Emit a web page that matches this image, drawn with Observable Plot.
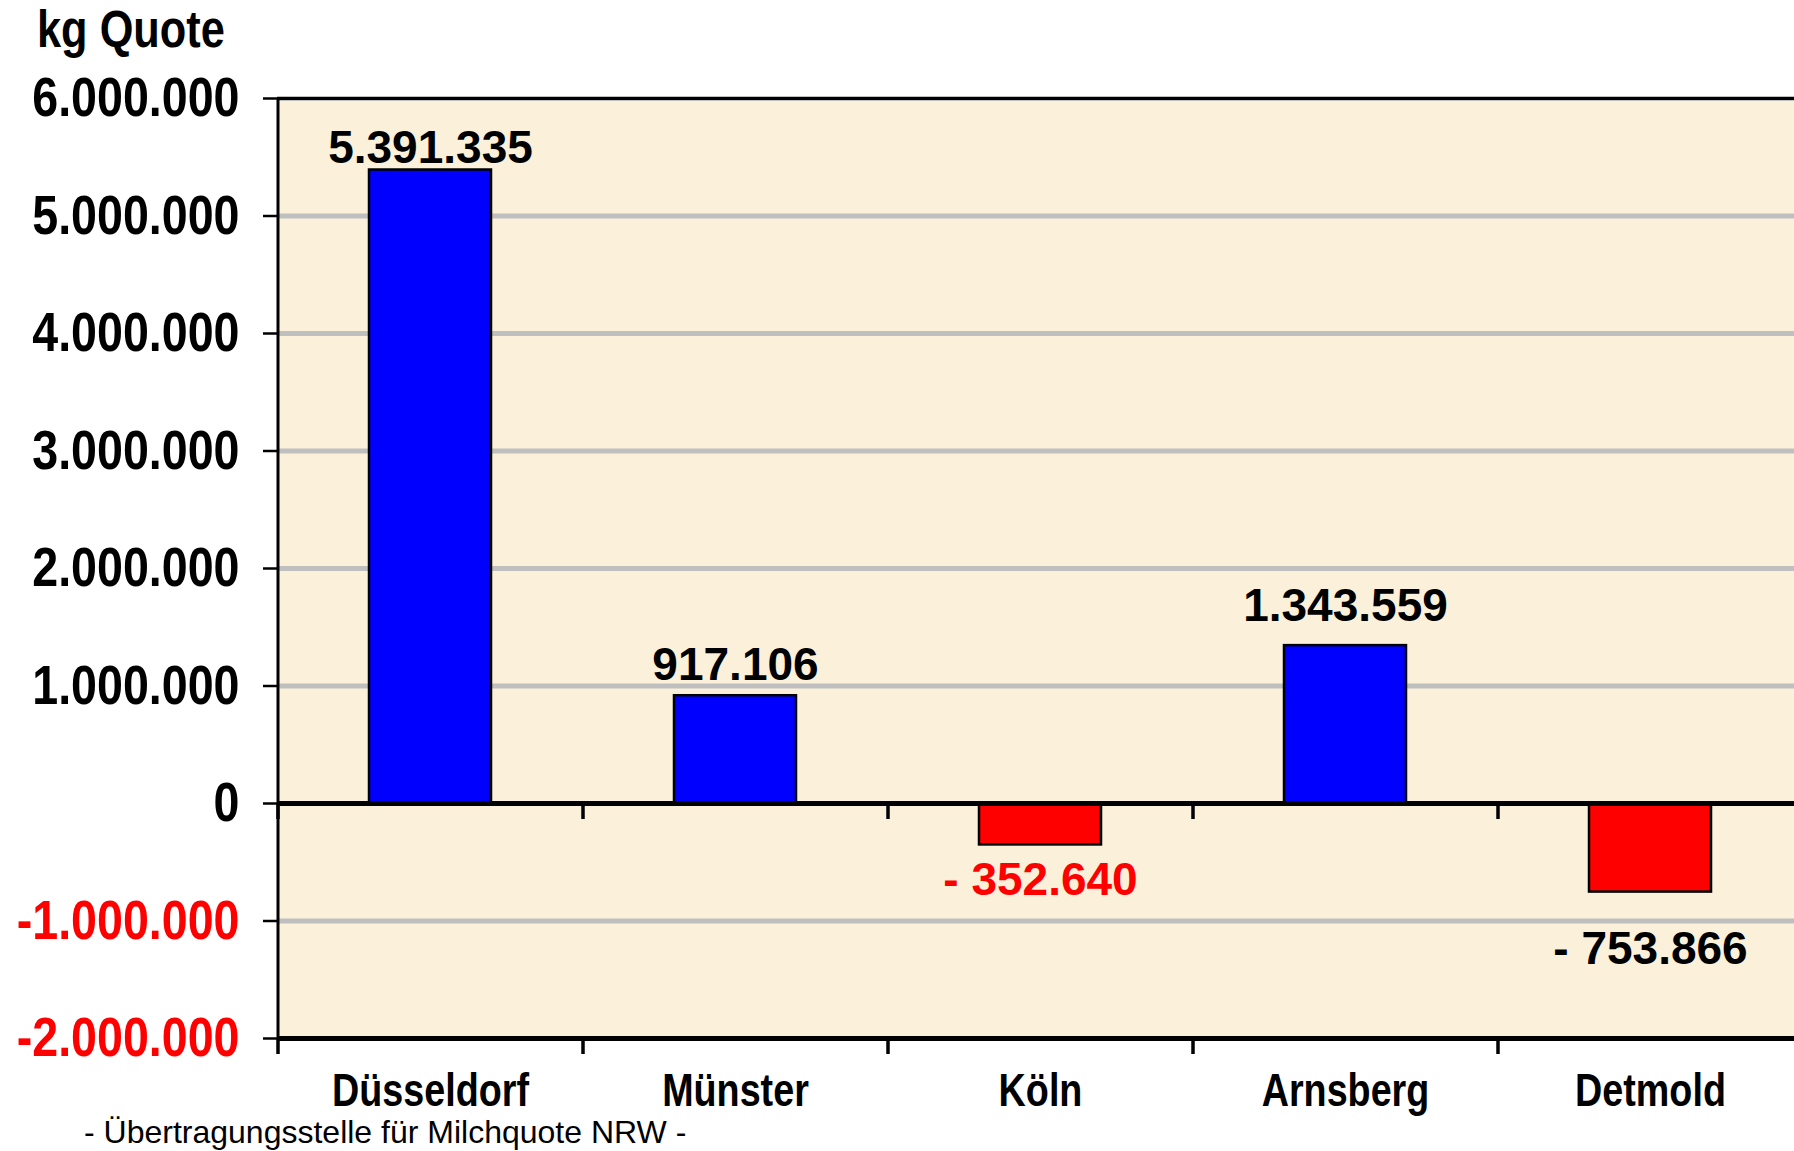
<!DOCTYPE html>
<html>
<head>
<meta charset="utf-8">
<script src="https://cdn.jsdelivr.net/npm/d3@7"></script>
<script src="https://cdn.jsdelivr.net/npm/@observablehq/plot@0.6"></script>
<style>
  html, body { margin: 0; padding: 0; background: #ffffff; }
  body { width: 1794px; height: 1151px; overflow: hidden; position: relative;
         font-family: "Liberation Sans", Arial, sans-serif; }
  #title { position: absolute; left: 37px; top: 4px; font-size: 51px; font-weight: bold; line-height: 1; color: #000;
           transform: scaleX(0.85); transform-origin: 0 0; white-space: nowrap; }
  #chart { position: absolute; left: 0; top: 0; }
  #caption { position: absolute; left: 84px; top: 1116px; font-size: 32px; line-height: 1; color: #000; white-space: nowrap; }
</style>
</head>
<body>
<div id="chart"></div>
<div id="title">kg Quote</div>
<div id="caption">- Übertragungsstelle für Milchquote NRW -</div>
<script>
// ---- data ----
const categories = ["Düsseldorf", "Münster", "Köln", "Arnsberg", "Detmold"];
const values = [5391335, 917106, -352640, 1343559, -753866];
const yTicks = [-2000000, -1000000, 0, 1000000, 2000000, 3000000, 4000000, 5000000, 6000000];

const rows = categories.map((c, i) => ({category: c, value: values[i]}));

// label styling (offset from the bar end, in px, and colour), as in the original
const labelGap = {"Düsseldorf": 7, "Münster": 16, "Köln": 19, "Arnsberg": 25, "Detmold": 41};
const redLabel = new Set(["Köln"]);

const de = d3.formatLocale({decimal: ",", thousands: ".", grouping: [3], currency: ["", " €"], minus: "-"});
const fmt = de.format(",d");
const labelText = v => v < 0 ? "- " + fmt(-v) : fmt(v);
const font = '"Liberation Sans", Arial, sans-serif';

const posRows = rows.filter(d => d.value >= 0);
const negRows = rows.filter(d => d.value < 0);

const chart = Plot.plot({
  width: 1794,
  height: 1118,
  marginTop: 98,
  marginBottom: 80,
  marginLeft: 277,
  marginRight: -8,
  style: {fontFamily: font, background: "transparent"},
  x: {domain: categories, paddingInner: 0.6, paddingOuter: 0.3, label: null},
  y: {domain: [-2000000, 6000000], label: null},
  marks: [
    Plot.frame({fill: "#fbf0da", stroke: null}),
    Plot.gridY(yTicks.filter(t => t !== 0 && t !== yTicks[0]), {stroke: "#bfbfbf", strokeOpacity: 1, strokeWidth: 5}),
    Plot.axisY(yTicks, {
      tickFormat: fmt, tickSize: 14, tickPadding: 24,
      fontSize: 56, fontWeight: "bold",
      fill: d => d < 0 ? "#ff0000" : "#000000",
      stroke: "#000", strokeWidth: 2.5
    }),
    Plot.axisX({tickSize: 0, tickPadding: 35, fontSize: 46, fontWeight: "bold", fill: "#000"}),
    Plot.barY(rows, {x: "category", y: "value", fill: d => d.value < 0 ? "#ff0000" : "#0000ff", stroke: "#000", strokeWidth: 2.5}),
    Plot.ruleY([0], {stroke: "#000", strokeWidth: 5}),
    Plot.ruleY([yTicks[0]], {stroke: "#000", strokeWidth: 5}),
    Plot.ruleY([yTicks[yTicks.length - 1]], {stroke: "#000", strokeWidth: 3}),
    Plot.ruleX([categories[0]], {x: d => d, dx: -152.5, stroke: "#000", strokeWidth: 3}),
    Plot.ruleX(categories, {x: d => d, dx: -152.5, y1: 0, y2: 0, insetBottom: -16, stroke: "#000", strokeWidth: 3.5}),
    Plot.ruleX(categories, {x: d => d, dx: -152.5, y1: yTicks[0], y2: yTicks[0], insetBottom: -16, stroke: "#000", strokeWidth: 3.5}),
    ...posRows.map(r => Plot.text([r], {x: "category", y: "value", text: d => labelText(d.value),
      lineAnchor: "bottom", dy: -labelGap[r.category], fontSize: 46, fontWeight: "bold", fill: "#000"})),
    ...negRows.map(r => Plot.text([r], {x: "category", y: "value", text: d => labelText(d.value),
      lineAnchor: "top", dy: labelGap[r.category] - 2, fontSize: 46, fontWeight: "bold",
      fill: redLabel.has(r.category) ? "#ff0000" : "#000000"}))
  ]
});

// the original uses a narrow (condensed) face for axis labels: squeeze them horizontally
function narrow(sel, k) {
  chart.querySelectorAll(sel).forEach(t => {
    const tr = t.getAttribute("transform");
    if (tr) {
      t.setAttribute("transform", tr + ` scale(${k},1)`);
    } else {
      const x = +(t.getAttribute("x") || 0), y = +(t.getAttribute("y") || 0);
      t.removeAttribute("x"); t.removeAttribute("y");
      t.setAttribute("transform", `translate(${x},${y}) scale(${k},1)`);
    }
  });
}
narrow('g[aria-label="y-axis tick label"] text', 0.832);
narrow('g[aria-label="x-axis tick label"] text', 0.82);

document.getElementById("chart").appendChild(chart);
</script>
</body>
</html>
